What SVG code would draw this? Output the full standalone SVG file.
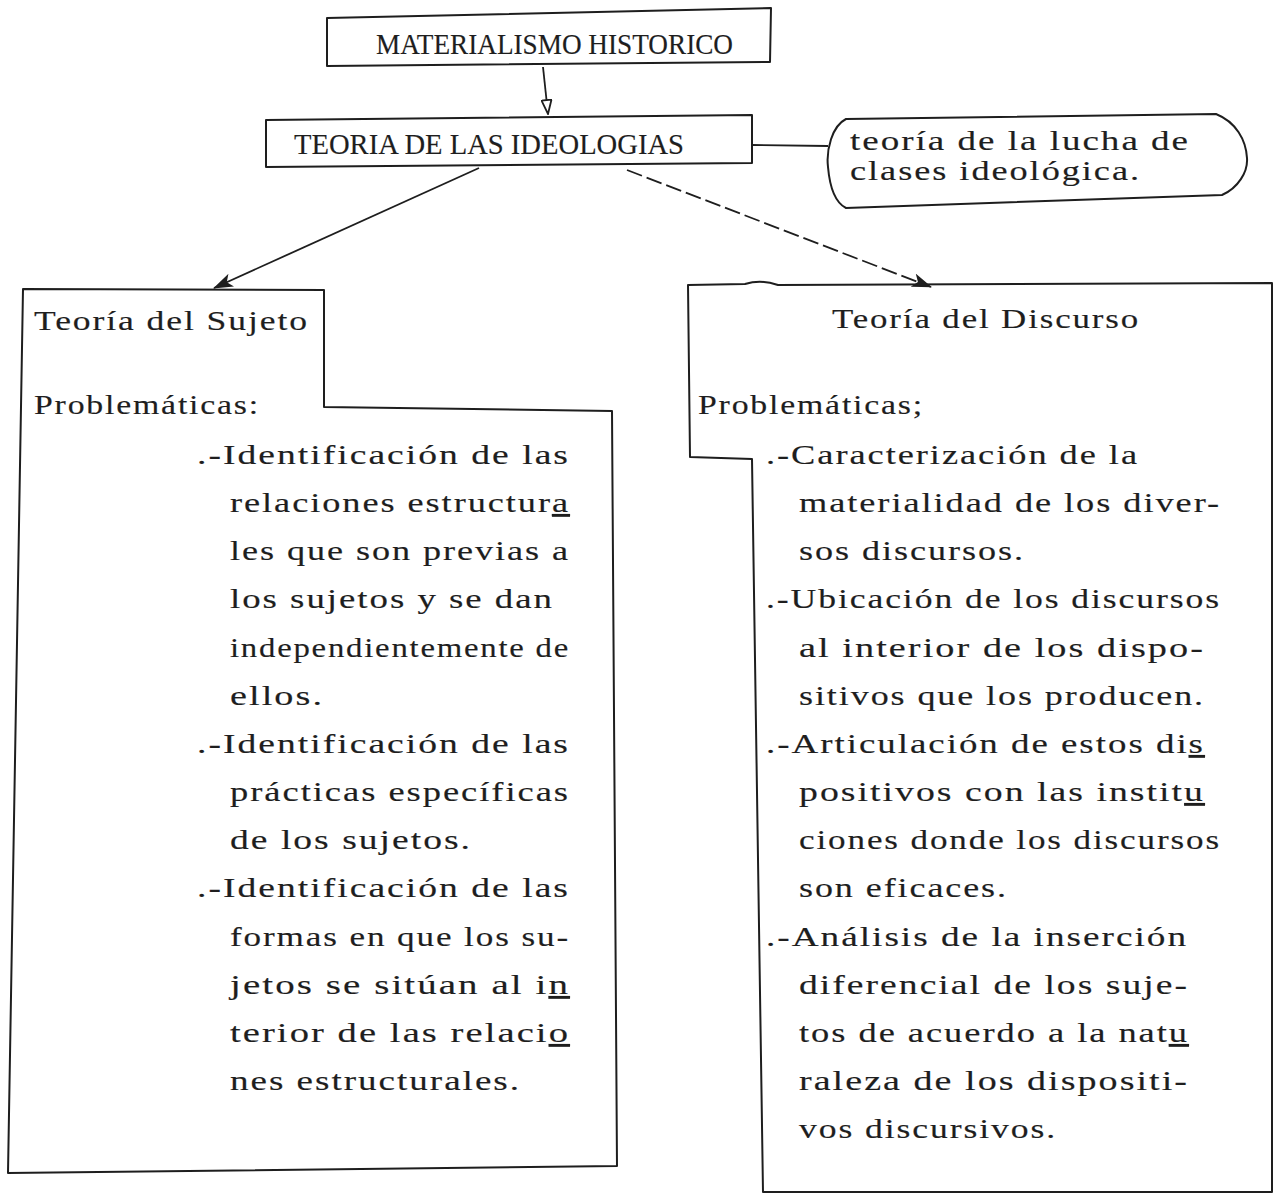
<svg xmlns="http://www.w3.org/2000/svg" width="1284" height="1195" viewBox="0 0 1284 1195">
<defs>
<style>
.bg{fill:#fff}
.box{fill:none;stroke:#1e1e1e;stroke-width:2;stroke-linejoin:round}
.conn{fill:none;stroke:#1e1e1e;stroke-width:1.8}
.dash{stroke-dasharray:16 5}
.t{font-family:"Liberation Serif","Times New Roman",serif;font-size:28px;letter-spacing:1.5px;fill:#1e1e1e;stroke:#1e1e1e;stroke-width:0.15}
.c{letter-spacing:0px;font-size:30px}
.u{text-decoration:underline}
</style>
<marker id="arrowFilled" viewBox="0 0 20 14" refX="19" refY="7" markerWidth="20" markerHeight="14" markerUnits="userSpaceOnUse" orient="auto">
<path d="M0,0 L20,7 L0,14 L5,7 Z" fill="#1e1e1e"/>
</marker>
<marker id="arrowOpen" viewBox="0 0 16 12" refX="15" refY="6" markerWidth="16" markerHeight="12" markerUnits="userSpaceOnUse" orient="auto">
<path d="M1,1 L15,6 L1,11 Z" fill="#fff" stroke="#1e1e1e" stroke-width="1.8"/>
</marker>
</defs>
<rect class="bg" x="0" y="0" width="1284" height="1195"/>

<g id="connectors">
<path class="conn" d="M543,67 L548,114" marker-end="url(#arrowOpen)"/>
<path class="conn" d="M479,168 L214,288" marker-end="url(#arrowFilled)"/>
<path class="conn dash" d="M627,170 L931,287" marker-end="url(#arrowFilled)"/>
<path class="conn" d="M752,145 L828,146"/>
</g>

<g id="materialismo">
<path class="box" d="M327,18 L771,8 L770,62 L327,66 Z"/>
<text class="t c" x="376" y="54" textLength="357" lengthAdjust="spacingAndGlyphs">MATERIALISMO HISTORICO</text>
</g>

<g id="ideologias">
<path class="box" d="M266,120 L752,115 L752,163 L266,167 Z"/>
<text class="t c" x="294" y="154" textLength="390" lengthAdjust="spacingAndGlyphs">TEORIA DE LAS IDEOLOGIAS</text>
</g>

<g id="lucha">
<path class="box" d="M846,119 C832,126 826,150 828,167 C830,190 836,203 846,208 L1222,195 C1238,188 1248,172 1247,158 C1246,140 1236,122 1216,114 Z"/>
<text class="t" x="850" y="150" textLength="340" lengthAdjust="spacingAndGlyphs">teoría de la lucha de</text>
<text class="t" x="850" y="180" textLength="291" lengthAdjust="spacingAndGlyphs">clases ideológica.</text>
</g>

<g id="sujeto">
<path class="box" d="M23,289 L324,290 L324,407 L612,411 L617,1166 L8,1173 Z"/>
<text class="t" x="34" y="330" textLength="275" lengthAdjust="spacingAndGlyphs">Teoría del Sujeto</text>
<text class="t" x="34" y="414" textLength="226" lengthAdjust="spacingAndGlyphs">Problemáticas:</text>
<text class="t" x="197" y="464" textLength="373" lengthAdjust="spacingAndGlyphs">.-Identificación de las</text>
<text class="t" x="230" y="512" textLength="340" lengthAdjust="spacingAndGlyphs">relaciones estructur<tspan class="u">a</tspan></text>
<text class="t" x="230" y="560" textLength="340" lengthAdjust="spacingAndGlyphs">les que son previas a</text>
<text class="t" x="230" y="608" textLength="324" lengthAdjust="spacingAndGlyphs">los sujetos y se dan</text>
<text class="t" x="230" y="657" textLength="340" lengthAdjust="spacingAndGlyphs">independientemente de</text>
<text class="t" x="230" y="705" textLength="94" lengthAdjust="spacingAndGlyphs">ellos.</text>
<text class="t" x="197" y="753" textLength="373" lengthAdjust="spacingAndGlyphs">.-Identificación de las</text>
<text class="t" x="230" y="801" textLength="340" lengthAdjust="spacingAndGlyphs">prácticas específicas</text>
<text class="t" x="230" y="849" textLength="242" lengthAdjust="spacingAndGlyphs">de los sujetos.</text>
<text class="t" x="197" y="897" textLength="373" lengthAdjust="spacingAndGlyphs">.-Identificación de las</text>
<text class="t" x="230" y="946" textLength="340" lengthAdjust="spacingAndGlyphs">formas en que los su-</text>
<text class="t" x="230" y="994" textLength="340" lengthAdjust="spacingAndGlyphs">jetos se sitúan al i<tspan class="u">n</tspan></text>
<text class="t" x="230" y="1042" textLength="340" lengthAdjust="spacingAndGlyphs">terior de las relaci<tspan class="u">o</tspan></text>
<text class="t" x="230" y="1090" textLength="291" lengthAdjust="spacingAndGlyphs">nes estructurales.</text>
</g>

<g id="discurso">
<path class="box" d="M688,285 L745,284 Q761,279 778,285 L1272,283 L1272,1192 L763,1192 L752,459 L690,457 Z"/>
<text class="t" x="832" y="328" textLength="308" lengthAdjust="spacingAndGlyphs">Teoría del Discurso</text>
<text class="t" x="698" y="414" textLength="226" lengthAdjust="spacingAndGlyphs">Problemáticas;</text>
<text class="t" x="766" y="464" textLength="373" lengthAdjust="spacingAndGlyphs">.-Caracterización de la</text>
<text class="t" x="799" y="512" textLength="422" lengthAdjust="spacingAndGlyphs">materialidad de los diver-</text>
<text class="t" x="799" y="560" textLength="226" lengthAdjust="spacingAndGlyphs">sos discursos.</text>
<text class="t" x="766" y="608" textLength="455" lengthAdjust="spacingAndGlyphs">.-Ubicación de los discursos</text>
<text class="t" x="799" y="657" textLength="406" lengthAdjust="spacingAndGlyphs">al interior de los dispo-</text>
<text class="t" x="799" y="705" textLength="406" lengthAdjust="spacingAndGlyphs">sitivos que los producen.</text>
<text class="t" x="766" y="753" textLength="439" lengthAdjust="spacingAndGlyphs">.-Articulación de estos di<tspan class="u">s</tspan></text>
<text class="t" x="799" y="801" textLength="406" lengthAdjust="spacingAndGlyphs">positivos con las instit<tspan class="u">u</tspan></text>
<text class="t" x="799" y="849" textLength="422" lengthAdjust="spacingAndGlyphs">ciones donde los discursos</text>
<text class="t" x="799" y="897" textLength="209" lengthAdjust="spacingAndGlyphs">son eficaces.</text>
<text class="t" x="766" y="946" textLength="422" lengthAdjust="spacingAndGlyphs">.-Análisis de la inserción</text>
<text class="t" x="799" y="994" textLength="390" lengthAdjust="spacingAndGlyphs">diferencial de los suje-</text>
<text class="t" x="799" y="1042" textLength="390" lengthAdjust="spacingAndGlyphs">tos de acuerdo a la nat<tspan class="u">u</tspan></text>
<text class="t" x="799" y="1090" textLength="390" lengthAdjust="spacingAndGlyphs">raleza de los dispositi-</text>
<text class="t" x="799" y="1138" textLength="258" lengthAdjust="spacingAndGlyphs">vos discursivos.</text>
</g>
</svg>
